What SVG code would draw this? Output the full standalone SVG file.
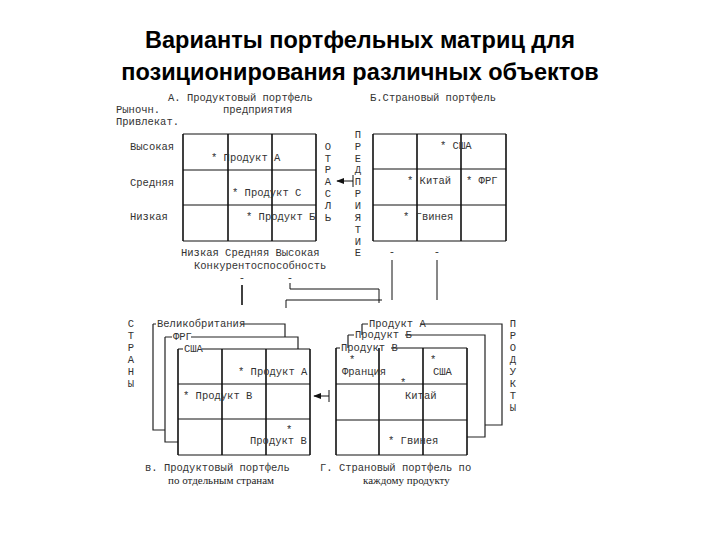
<svg xmlns="http://www.w3.org/2000/svg" width="720" height="540" viewBox="0 0 720 540">
<defs>
<marker id="ah" viewBox="0 0 10 10" refX="9" refY="5" markerWidth="8" markerHeight="8" orient="auto" markerUnits="userSpaceOnUse">
<path d="M0,1 L10,5 L0,9 z" fill="#111"/>
</marker>
<style>
.t{font-family:"Liberation Mono","DejaVu Sans Mono",monospace;font-size:10.5px;fill:#333}
.s{font-family:"Liberation Serif","Times New Roman",serif;font-size:11px;fill:#222}
.c{text-anchor:middle}
.h{font-family:"Liberation Sans",Arial,sans-serif;font-size:23.5px;font-weight:bold;fill:#000;text-anchor:middle}
.v{stroke:#111;stroke-width:1.6;fill:none}
.g{stroke:#111;stroke-width:1;fill:none}
.f{stroke:#222;stroke-width:1.2;fill:none}
</style>
</defs>
<rect width="720" height="540" fill="#fff"/>
<g id="title">
<text class="h" x="360" y="48">Варианты портфельных матриц для</text>
<text class="h" x="360" y="80">позиционирования различных объектов</text>
</g>

<g id="matrixA">
<text class="t" x="168" y="101">А. Продуктовый портфель</text>
<text class="t" x="223" y="113">предприятия</text>
<text class="t" x="116" y="113">Рыночн.</text>
<text class="t" x="116" y="125">Привлекат.</text>
<path class="g" d="M183,134H316M183,170H316M183,205H316M183,241H316"/>
<path class="v" d="M183,134V241M228,134V241M272,134V241M316,134V241"/>
<text class="t" x="130" y="150">Высокая</text>
<text class="t" x="130" y="186">Средняя</text>
<text class="t" x="130" y="220">Низкая</text>
<text class="t" x="211" y="161">* Продукт А</text>
<text class="t" x="232" y="196">* Продукт С</text>
<text class="t" x="246" y="220">* Продукт Б</text>
<text class="t" x="181" y="256">Низкая Средняя Высокая</text>
<text class="t" x="194" y="269">Конкурентоспособность</text>
<text class="t c" x="242" y="281">-</text>
<text class="t c" x="290" y="281">-</text>
</g>

<g id="otrasl">
<text class="t c" x="328" y="150">О</text>
<text class="t c" x="328" y="162">Т</text>
<text class="t c" x="328" y="173">Р</text>
<text class="t c" x="328" y="185">А</text>
<text class="t c" x="328" y="197">С</text>
<text class="t c" x="328" y="209">Л</text>
<text class="t c" x="328" y="221">Ь</text>
</g>

<g id="predpriyatie">
<text class="t c" x="358" y="138">П</text>
<text class="t c" x="358" y="150">Р</text>
<text class="t c" x="358" y="162">Е</text>
<text class="t c" x="358" y="173">Д</text>
<text class="t c" x="358" y="185">П</text>
<text class="t c" x="358" y="197">Р</text>
<text class="t c" x="358" y="209">И</text>
<text class="t c" x="358" y="221">Я</text>
<text class="t c" x="358" y="233">Т</text>
<text class="t c" x="358" y="245">И</text>
<text class="t c" x="358" y="256">Е</text>
</g>

<g id="matrixB">
<text class="t" x="370" y="101">Б.Страновый портфель</text>
<path class="g" d="M373,134H506M373,169H506M373,205H506M373,241H506"/>
<path class="v" d="M373,134V241M417,134V241M461,134V241M506,134V241"/>
<text class="t" x="440" y="149">* США</text>
<text class="t" x="407" y="184">* Китай</text>
<text class="t" x="466" y="184">* ФРГ</text>
<text class="t" x="403" y="220">* Гвинея</text>
<text class="t c" x="392" y="255">-</text>
<text class="t c" x="437" y="255">-</text>
</g>

<g id="matrixV">
<path class="f" d="M153,324H156M241,324H285V337M153,324V430H165"/>
<text class="t" x="157" y="327" font-size="10">Великобритания</text>
<path class="f" d="M165,337H172M191,337H298V349M165,337V442H178"/>
<text class="t" x="173" y="340" font-size="10">ФРГ</text>
<path class="g" d="M178,349H183M202,349H310M178,384H310M178,419H310M178,455H310"/>
<text class="t" x="184" y="352" font-size="10">США</text>
<path class="v" d="M178,349V455M222,349V455M266,349V455M310,349V455"/>
<text class="t" x="238" y="375">* Продукт А</text>
<text class="t" x="183" y="399">* Продукт В</text>
<text class="t" x="286" y="433">*</text>
<text class="t" x="250" y="444">Продукт В</text>
<text class="t c" x="131" y="327">С</text>
<text class="t c" x="131" y="339">Т</text>
<text class="t c" x="131" y="351">Р</text>
<text class="t c" x="131" y="363">А</text>
<text class="t c" x="131" y="375">Н</text>
<text class="t c" x="131" y="387">Ы</text>
<text class="t" x="145" y="471">в. Продуктовый портфель</text>
<text class="s" x="168" y="484">по отдельным странам</text>
</g>

<g id="matrixG">
<path class="f" d="M362,324H368M420,324H502V425H485M362,324V335"/>
<text class="t" x="369" y="327" font-size="10">Продукт А</text>
<path class="f" d="M348,335H354M405,335H485V437H467M348,335V348"/>
<text class="t" x="355" y="338" font-size="10">Продукт Б</text>
<path class="g" d="M336,348H340M391,348H467M336,384H467M336,420H467M336,455H467"/>
<text class="t" x="341" y="351" font-size="10">Продукт В</text>
<path class="v" d="M336,348V455M379,348V455M423,348V455M467,348V455"/>
<text class="t" x="349" y="363">*</text>
<text class="t" x="342" y="375">Франция</text>
<text class="t" x="430" y="363">*</text>
<text class="t" x="433" y="375">США</text>
<text class="t" x="400" y="386">*</text>
<text class="t" x="405" y="399">Китай</text>
<text class="t" x="388" y="444">* Гвинея</text>
<text class="t c" x="513" y="327">П</text>
<text class="t c" x="513" y="339">Р</text>
<text class="t c" x="513" y="351">О</text>
<text class="t c" x="513" y="363">Д</text>
<text class="t c" x="513" y="375">У</text>
<text class="t c" x="513" y="387">К</text>
<text class="t c" x="513" y="399">Т</text>
<text class="t c" x="513" y="411">Ы</text>
<text class="t" x="320" y="471">Г. Страновый портфель по</text>
<text class="s" x="363" y="484">каждому продукту</text>
</g>

<g id="connectors">
<path class="g" d="M353,181H337" marker-end="url(#ah)"/>
<path class="g" d="M353,175V187"/>
<path class="g" d="M329,396H314" marker-end="url(#ah)"/>
<path class="g" d="M329,390V402"/>
<path class="v" d="M242,285V305"/>
<path class="g" d="M290,283V289H379V303"/>
<path class="g" d="M286,308V300H382"/>
<path class="g" d="M392,260V300"/>
<path class="g" d="M437,260V300"/>
</g>
</svg>
